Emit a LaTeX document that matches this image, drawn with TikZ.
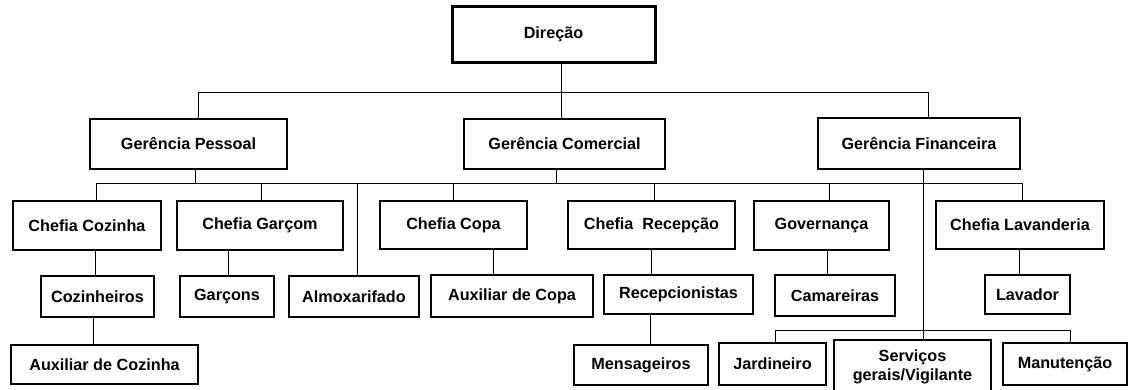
\documentclass[tikz,border=0pt]{standalone}
\usepackage{fontspec}
\setmainfont{Liberation Sans}
\tikzset{box/.style={draw=black, line width=1.2pt, inner sep=0pt, outer sep=0pt,
   font=\fontsize{16.2}{19.5}\selectfont\bfseries, align=center},
 dims/.style 2 args={minimum width=#1pt, minimum height=#2pt},
 link/.style={draw=black, line width=1pt},
 }

\begin{document}
\begin{tikzpicture}[x=1pt,y=-1pt]
        \useasboundingbox (0,0) rectangle (1134,389);
        \coordinate (bus1) at (0,92);
        \coordinate (bus2) at (0,183);
        \coordinate (bus3) at (0,330);

        \node[box, line width=3pt, dims={203}{56}] (dir) at (553.5,34) {Direção};

        \node[box, dims={197}{50}] (gp) at (188.5,144) {Gerência Pessoal};
        \node[box, dims={201}{50}] (gc) at (564.5,144) {Gerência Comercial};
        \node[box, dims={202}{51}] (gf) at (919,143.5) {Gerência Financeira};

        \node[box, line width=2pt, dims={148}{49}] (cc) at (87,225.5) {Chefia Cozinha};
        \node[box, dims={166}{49}] (cg) at (260,225.5) {Chefia Garçom};
        \node[box, dims={147}{48}] (cp) at (453.5,225) {Chefia Copa};
        \node[box, dims={167}{48}] (cr) at (651.5,225) {Chefia~~Recepção};
        \node[box, dims={135}{49}] (gv) at (821.5,225.5) {Governança};
        \node[box, dims={168}{48}] (cl) at (1020,225) {Chefia Lavanderia};

        \node[box, dims={113}{41}] (coz) at (97.5,296.5) {Cozinheiros};
        \node[box, dims={94}{41}] (gar) at (227,296.5) {Garçons};
        \node[box, dims={130}{41}] (alm) at (354,296.5) {Almoxarifado};
        \node[box, dims={162}{42}] (ac) at (512,296) {Auxiliar de Copa};
        \node[box, dims={149}{39}] (rec) at (678.5,294.5) {Recepcionistas};
        \node[box, dims={120}{41}] (cam) at (835,295.5) {Camareiras};
        \node[box, dims={85}{39}] (lav) at (1027.5,294.5) {Lavador};

        \node[box, dims={187}{39}] (axc) at (104.5,364.5) {Auxiliar de Cozinha};
        \node[box, dims={134}{40}] (men) at (641,365) {Mensageiros};
        \node[box, dims={107}{42}] (jar) at (772.5,364) {Jardineiro};
        \node[box, dims={157}{54}] (sgv) at (912.5,367) {Serviços\\gerais/Vigilante};
        \node[box, dims={124}{42}] (man) at (1065,364) {Manutenção};

        \draw[link] ([xshift=9.5pt]gp.north) -- ([xshift=9.5pt]gp.north |- bus1)
            -- ([xshift=9pt]gf.north |- bus1) -- ([xshift=9pt]gf.north);
        \draw[link] ([xshift=7.5pt]dir.south) -- ([xshift=7.5pt]dir.south |- gc.north);

        \draw[link] ([xshift=9pt]cc.north) -- ([xshift=9pt]cc.north |- bus2)
            -- ([xshift=2pt]cl.north |- bus2) -- ([xshift=2pt]cl.north);
        \draw[link] ([xshift=6.5pt]gp.south) -- ([xshift=6.5pt]gp.south |- bus2);
        \draw[link] ([xshift=-8.5pt]gc.south) -- ([xshift=-8.5pt]gc.south |- bus2);
        \draw[link] ([xshift=1pt]cg.north) -- ([xshift=1pt]cg.north |- bus2);
        \draw[link] ([xshift=3pt]alm.north) -- ([xshift=3pt]alm.north |- bus2);
        \draw[link] (cp.north) -- (cp.north |- bus2);
        \draw[link] ([xshift=2.5pt]cr.north) -- ([xshift=2.5pt]cr.north |- bus2);
        \draw[link] ([xshift=7.5pt]gv.north) -- ([xshift=7.5pt]gv.north |- bus2);

        \draw[link] ([xshift=8pt]cc.south) -- ([xshift=8pt]cc.south |- coz.north);
        \draw[link] ([xshift=-4.5pt]coz.south) -- ([xshift=-4.5pt]coz.south |- axc.north);
        \draw[link] ([xshift=1pt]gar.north) -- ([xshift=1pt]gar.north |- cg.south);
        \draw[link] ([xshift=-19pt]ac.north) -- ([xshift=-19pt]ac.north |- cp.south);
        \draw[link] (cr.south) -- (cr.south |- rec.north);
        \draw[link] ([xshift=9pt]men.north) -- ([xshift=9pt]men.north |- rec.south);
        \draw[link] ([xshift=5.5pt]gv.south) -- ([xshift=5.5pt]gv.south |- cam.north);
        \draw[link] ([xshift=-1pt]cl.south) -- ([xshift=-1pt]cl.south |- lav.north);

        \draw[link] ([xshift=4pt]gf.south) -- ([xshift=4pt]gf.south |- sgv.north);
        \draw[link] ([xshift=2.5pt]jar.north) -- ([xshift=2.5pt]jar.north |- bus3)
            -- ([xshift=5pt]man.north |- bus3) -- ([xshift=5pt]man.north);
    \end{tikzpicture}
\end{document}
